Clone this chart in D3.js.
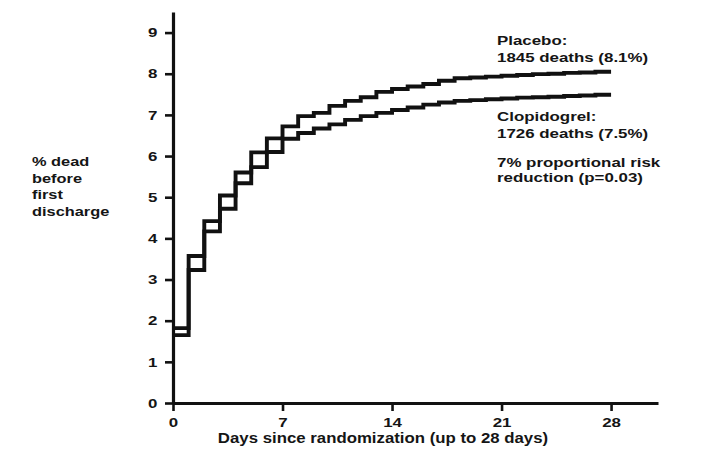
<!DOCTYPE html>
<html>
<head>
<meta charset="utf-8">
<script src="https://cdn.jsdelivr.net/npm/d3@7/dist/d3.min.js"></script>
<style>
body{margin:0;background:#fff;}
svg text{font-family:"Liberation Sans",Arial,Helvetica,sans-serif;font-weight:bold;fill:#151515;}
</style>
</head>
<body>
<script>
//chart data
var days = [0,1,2,3,4,5,6,7,8,9,10,11,12,13,14,15,16,17,18,19,20,21,22,23,24,25,26,27,28];
var placebo = [1.82,3.57,4.42,5.04,5.60,6.09,6.43,6.72,6.97,7.05,7.22,7.34,7.43,7.56,7.63,7.69,7.75,7.83,7.89,7.91,7.93,7.95,7.97,7.99,8.00,8.02,8.03,8.05,8.05];
var clopidogrel = [1.65,3.23,4.17,4.72,5.34,5.73,6.10,6.42,6.56,6.67,6.77,6.88,6.97,7.05,7.12,7.18,7.25,7.30,7.34,7.36,7.38,7.40,7.42,7.43,7.44,7.46,7.47,7.49,7.49];
var xTicks = [0,7,14,21,28];
var yTicks = [0,1,2,3,4,5,6,7,8,9];
var yLabel = ['% dead','before','first','discharge'];
var placeboNote = ['Placebo:','1845 deaths (8.1%)'];
var clopNote = ['Clopidogrel:','1726 deaths (7.5%)'];
var riskNote = ['7% proportional risk','reduction (p=0.03)'];

//board metrics
var width = 710, height = 469;
var x = d3.scaleLinear().domain([0,31]).range([173,658]);
var y = d3.scaleLinear().domain([0,9.5]).range([403,12]);

var svg = d3.select('body').append('svg')
	.attr('width',width)
	.attr('height',height);

//text in the figure is stretched sideways
function label(px, py, str, size, sx, anchor){
	svg.append('text')
		.attr('transform','translate('+px+','+py+') scale('+sx+',1)')
		.attr('font-size',size)
		.attr('text-anchor',anchor || 'start')
		.text(str);
}

//step curves
var line = d3.line()
	.x(function(d){return x(d[0])})
	.y(function(d){return y(d[1])})
	.curve(d3.curveStepAfter);

[placebo, clopidogrel].forEach(function(s){
	svg.append('path')
		.datum(days.map(function(d,i){return [d, s[i]]}))
		.attr('d', line)
		.attr('fill','none')
		.attr('stroke','#111')
		.attr('stroke-width',3.9);
});

//axes
var gy = svg.append('g').attr('transform','translate('+x(0)+',0)')
	.call(d3.axisLeft(y).tickValues(yTicks).tickSize(8).tickSizeOuter(0).tickPadding(4));
var gx = svg.append('g').attr('transform','translate(0,'+y(0)+')')
	.call(d3.axisBottom(x).tickValues(xTicks).tickSize(8).tickSizeOuter(0).tickPadding(7));

[gy, gx].forEach(function(g){
	g.attr('font-family',null).attr('font-size',null);
	g.select('.domain').attr('stroke','#111').attr('stroke-width',3.2);
	g.selectAll('.tick line').attr('stroke','#111').attr('stroke-width',2.6);
	g.selectAll('.tick text').attr('font-size',13).attr('fill','#151515');
});
gy.selectAll('.tick text').attr('transform','scale(1.3,1)');
gx.selectAll('.tick text').attr('transform','scale(1.3,1)');

//labels
label(383, 443, 'Days since randomization (up to 28 days)', 14, 1.2, 'middle');
yLabel.forEach(function(t,i){ label(32, 166 + i*16.7, t, 13, 1.26); });
label(497, 45, placeboNote[0], 13, 1.3);
label(497, 62, placeboNote[1], 13, 1.3);
label(497, 121, clopNote[0], 13, 1.3);
label(497, 138, clopNote[1], 13, 1.3);
label(497, 167, riskNote[0], 13, 1.3);
label(497, 182, riskNote[1], 13, 1.3);
</script>
</body>
</html>
